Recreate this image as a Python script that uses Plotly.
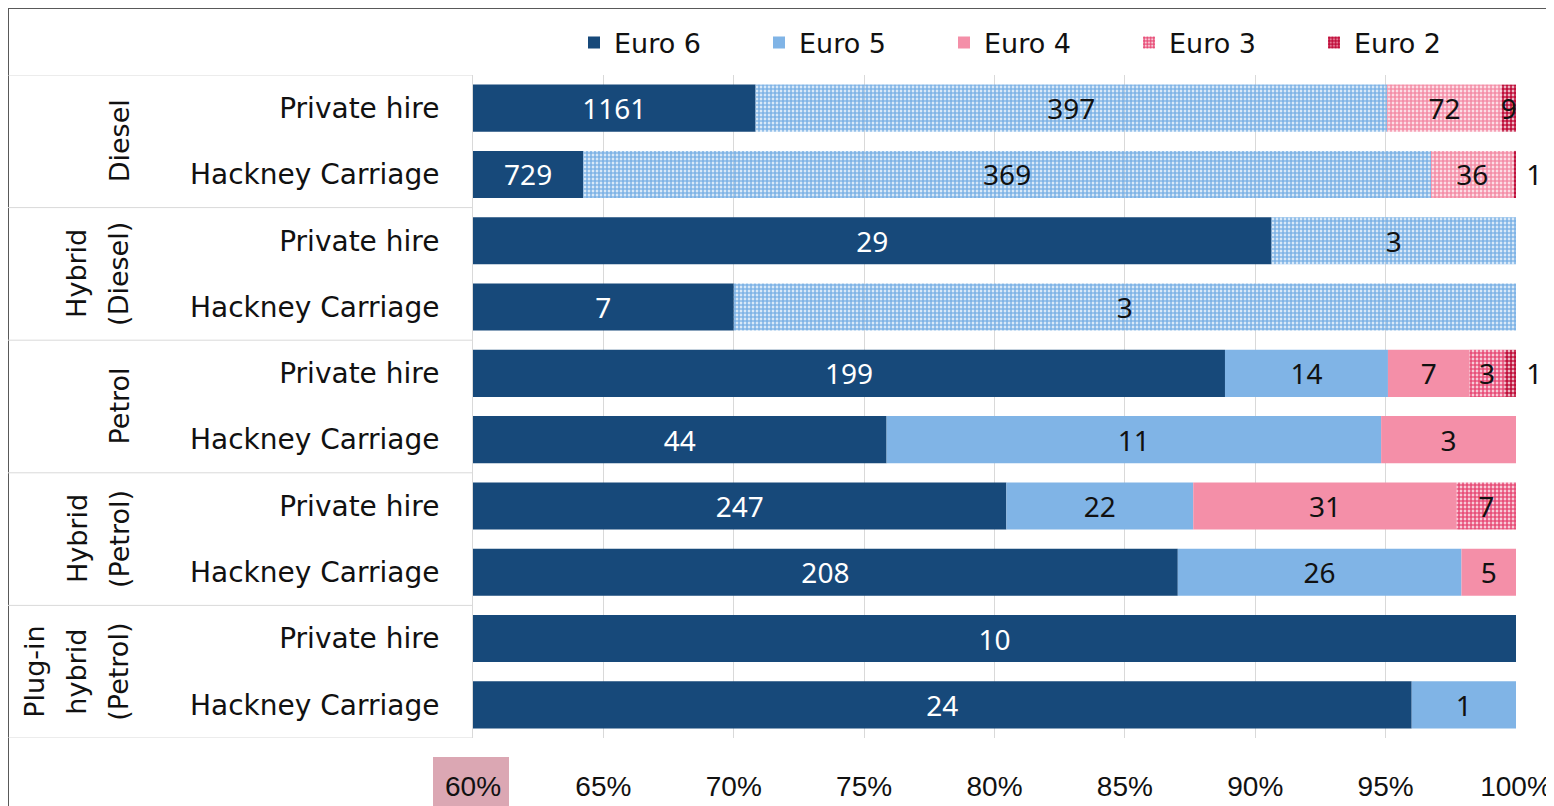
import plotly.graph_objects as go

# ---------------- data (top row first) ----------------
groups = ["Diesel", "Diesel", "Hybrid (Diesel)", "Hybrid (Diesel)", "Petrol", "Petrol",
          "Hybrid (Petrol)", "Hybrid (Petrol)", "Plug-in hybrid (Petrol)", "Plug-in hybrid (Petrol)"]
subcats = ["Private hire", "Hackney Carriage"] * 5
group_lines = [["Diesel"], ["Hybrid", "(Diesel)"], ["Petrol"], ["Hybrid", "(Petrol)"],
               ["Plug-in", "hybrid", "(Petrol)"]]
euro6 = [1161, 729, 29, 7, 199, 44, 247, 208, 10, 24]
euro5 = [397, 369, 3, 3, 14, 11, 22, 26, 0, 1]
euro4 = [72, 36, 0, 0, 7, 3, 31, 5, 0, 0]
euro3 = [0, 0, 0, 0, 3, 0, 7, 0, 0, 0]
euro2 = [9, 1, 0, 0, 1, 0, 0, 0, 0, 0]
diesel_rows = [True, True, True, True, False, False, False, False, False, False]
x_ticks = [60, 65, 70, 75, 80, 85, 90, 95, 100]
x_tick_labels = ["60%", "65%", "70%", "75%", "80%", "85%", "90%", "95%", "100%"]

series = [("Euro 6", euro6), ("Euro 5", euro5), ("Euro 4", euro4), ("Euro 3", euro3), ("Euro 2", euro2)]

# ---------------- styles ----------------
C6, C5, C4, C3, C2 = "#17497a", "#80b4e6", "#f48fa8", "#e8507a", "#c0103c"
FONT = "DejaVu Sans"
NUMFONT = "Noto Sans"
n = len(euro6)
totals = [sum(s[1][i] for s in series) for i in range(n)]
ypos = [n - 1 - i for i in range(n)]
XMIN = x_ticks[0]
PAT = dict(size=4, solidity=0.75)

fig = go.Figure()
cum = [0.0] * n
for name, vals in series:
    pct = [v / t * 100 for v, t in zip(vals, totals)]
    base = [min(max(c, XMIN), 100.0) for c in cum]
    new_cum = [min(c + p, 100.0) for c, p in zip(cum, pct)]
    length = [nc - b if v > 0 else 0 for nc, b, v in zip(new_cum, base, vals)]
    cum = new_cum
    text = [str(v) if v > 0 else "" for v in vals]
    tpos = ["inside"] * n
    if name == "Euro 6":
        color = [C6] * n; shape = [""] * n; fg = [C6] * n; bg = [C6] * n; tcol = "white"
    elif name == "Euro 5":
        color = [C5] * n
        shape = ["." if d else "" for d in diesel_rows]; fg = [C5] * n
        bg = ["white" if d else C5 for d in diesel_rows]
        tcol = "#111111"
    elif name == "Euro 4":
        color = [C4] * n
        shape = ["." if d else "" for d in diesel_rows]; fg = [C4] * n
        bg = ["white" if d else C4 for d in diesel_rows]
        tcol = "#111111"
    elif name == "Euro 3":
        color = [C3] * n; shape = ["."] * n; fg = [C3] * n; bg = ["white"] * n; tcol = "#111111"
    else:
        color = [C2] * n; shape = ["."] * n; fg = [C2] * n; bg = ["#f3a3b8"] * n; tcol = "#111111"
        # tiny last segments: value shown beyond the bar end
        for i, v in enumerate(vals):
            if v > 0 and v / totals[i] < 0.005:
                tpos[i] = "outside"
                text[i] = "\u00a0" + text[i]
    r = lambda a: list(reversed(a))
    fig.add_trace(go.Bar(
        name=name, orientation="h", y=r(ypos), x=r(length), base=r(base),
        text=r(text), textposition=r(tpos), insidetextanchor="middle", textangle=0,
        constraintext="none", cliponaxis=False,
        textfont=dict(family=NUMFONT, size=28, color=tcol),
        outsidetextfont=dict(family=NUMFONT, size=28, color="#111111"),
        width=0.71,
        marker=dict(color=r(color), line=dict(width=0),
                    pattern=dict(shape=r(shape), fgcolor=r(fg), bgcolor=r(bg),
                                 fillmode="replace", **PAT)),
        hoverinfo="skip",
    ))

W, H = 1546, 798
L, R, T, B = 465, 38, 67, 68
pw, ph = W - L - R, H - T - B

fig.update_layout(
    width=W, height=H, barmode="overlay",
    margin=dict(l=L, r=R, t=T, b=B, autoexpand=False),
    plot_bgcolor="white", paper_bgcolor="white",
    font=dict(family=FONT, size=28, color="#111111"),
    legend=dict(orientation="h", x=(566 - L) / pw, xanchor="left", y=1 + 32 / ph, yanchor="middle",
                font=dict(family=FONT, size=27, color="#111111"),
                entrywidth=140, entrywidthmode="pixels", traceorder="normal",
                bgcolor="rgba(0,0,0,0)"),
    xaxis=dict(range=[XMIN, 100], tickvals=x_ticks, ticktext=x_tick_labels, automargin=False,
               showgrid=True, gridcolor="#d9d9d9", gridwidth=1, zeroline=False,
               showline=False, ticks="", ticklabelstandoff=29,
               tickfont=dict(family="Liberation Sans", size=28, color="#111111")),
    yaxis=dict(range=[-0.5, n - 0.5], tickvals=ypos, ticktext=subcats, automargin=False,
               showgrid=False, zeroline=False, showline=True, linecolor="#d9d9d9", linewidth=1,
               ticks="", ticklabelstandoff=27,
               tickfont=dict(family=FONT, size=28, color="#111111")),
)

shapes = []
# outer frame (left and top edges visible in the view)
shapes.append(dict(type="line", xref="paper", yref="paper",
                   x0=-L / pw, x1=-L / pw, y0=-B / ph, y1=1 + T / ph,
                   line=dict(color="#595959", width=2), layer="above"))
shapes.append(dict(type="line", xref="paper", yref="paper",
                   x0=-L / pw, x1=1 + R / pw, y0=1 + T / ph, y1=1 + T / ph,
                   line=dict(color="#595959", width=2), layer="above"))
# table separator lines
for k in range(0, n + 1, 2):
    yb = n - 0.5 - k
    shapes.append(dict(type="line", xref="paper", yref="y", x0=-L / pw, x1=0, y0=yb, y1=yb,
                       line=dict(color="#d9d9d9", width=1)))
# pink highlight behind first tick label
shapes.append(dict(type="rect", xref="paper", yref="paper",
                   x0=(425 - L) / pw, x1=(501 - L) / pw, y0=-(798 - 730) / ph, y1=-(749 - 730) / ph,
                   fillcolor="#dba7b3", line=dict(width=0), layer="below"))
fig.update_layout(shapes=shapes)

# group labels (rotated, one annotation per text line)
LINE_GAP = 42
for g, lines in enumerate(group_lines):
    yc = n - 1 - (2 * g + 0.5)
    m = len(lines)
    for k, line in enumerate(lines):
        fig.add_annotation(x=(111 - L) / pw, xref="paper", y=yc, yref="y", text=line,
                           xshift=-LINE_GAP * (m - 1 - k),
                           textangle=-90, xanchor="center", yanchor="middle", showarrow=False,
                           font=dict(family=FONT, size=27, color="#111111"))

fig.write_html("out.html")
